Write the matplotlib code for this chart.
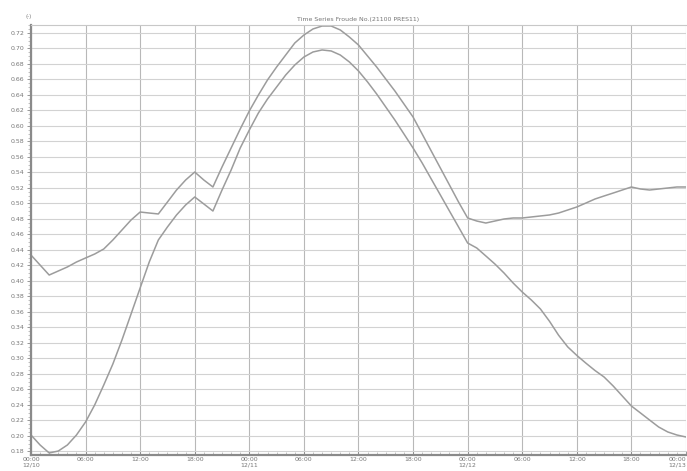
import numpy as np
import matplotlib
matplotlib.use("Agg")
import matplotlib.pyplot as plt
from matplotlib.ticker import MultipleLocator

# === Dados (hora a hora, 3 dias) ===
hours = list(range(0, 73))

serie_sup = [0.4335, 0.4206, 0.4077, 0.4129, 0.4181, 0.4245, 0.4297, 0.4348, 0.4413, 0.4529,
             0.4658, 0.4787, 0.4890, 0.4877, 0.4865, 0.5019, 0.5174, 0.5303, 0.5406, 0.5303,
             0.5213, 0.5471, 0.5716, 0.5961, 0.6194, 0.6400, 0.6594, 0.6761, 0.6916, 0.7071,
             0.7174, 0.7252, 0.7290, 0.7290, 0.7239, 0.7148, 0.7045, 0.6903, 0.6761, 0.6606,
             0.6452, 0.6284, 0.6116, 0.5897, 0.5677, 0.5458, 0.5239, 0.5019, 0.4813, 0.4774,
             0.4748, 0.4774, 0.4800, 0.4813, 0.4813, 0.4826, 0.4839, 0.4852, 0.4877, 0.4916,
             0.4955, 0.5006, 0.5058, 0.5097, 0.5135, 0.5174, 0.5213, 0.5187, 0.5174, 0.5187,
             0.5200, 0.5213, 0.5213]

serie_inf = [0.2013, 0.1884, 0.1781, 0.1806, 0.1884, 0.2013, 0.2181, 0.2400, 0.2658, 0.2929,
             0.3239, 0.3574, 0.3910, 0.4245, 0.4529, 0.4697, 0.4852, 0.4981, 0.5084, 0.4994,
             0.4903, 0.5174, 0.5432, 0.5716, 0.5948, 0.6168, 0.6348, 0.6503, 0.6658, 0.6787,
             0.6890, 0.6955, 0.6981, 0.6968, 0.6916, 0.6826, 0.6710, 0.6568, 0.6413, 0.6245,
             0.6077, 0.5897, 0.5716, 0.5523, 0.5316, 0.5110, 0.4903, 0.4697, 0.4490, 0.4426,
             0.4323, 0.4219, 0.4103, 0.3974, 0.3858, 0.3755, 0.3639, 0.3480, 0.3300, 0.3150,
             0.3040, 0.2940, 0.2845, 0.2761, 0.2645, 0.2516, 0.2387, 0.2297, 0.2206, 0.2116,
             0.2052, 0.2013, 0.1987]

xtick_pos = list(range(0, 73, 6))
xtick_labels = ["00:00\n12/10", "06:00", "12:00", "18:00",
                "00:00\n12/11", "06:00", "12:00", "18:00",
                "00:00\n12/12", "06:00", "12:00", "18:00",
                "00:00\n12/13"]

titulo = "Time Series Froude No.(21100 PRES11)"

# === Figura ===
fig = plt.figure(figsize=(6.87, 4.71), dpi=100)
ax = fig.add_axes([0.0451, 0.034, 0.9534, 0.9129])

ax.plot(hours, serie_sup, color="#9c9c9c", lw=1.1)
ax.plot(hours, serie_inf, color="#9c9c9c", lw=1.1)

ax.set_xlim(0, 72)
ax.set_ylim(0.1755, 0.7303)

ax.set_xticks(xtick_pos)
ax.set_xticklabels(xtick_labels)
# ultimo rotulo encostado na borda
ax.get_xticklabels()[-1].set_horizontalalignment("right")
ax.xaxis.set_minor_locator(MultipleLocator(1))
ax.yaxis.set_major_locator(MultipleLocator(0.02))
ax.yaxis.set_minor_locator(MultipleLocator(0.005))
ax.yaxis.set_major_formatter(matplotlib.ticker.FormatStrFormatter("%.2f"))

ax.tick_params(axis="both", which="major", labelsize=4.5, labelcolor="#777777",
               color="#888888", length=3, width=0.6, pad=1.5)
ax.tick_params(axis="both", which="minor", color="#aaaaaa", length=2, width=0.5)
ax.tick_params(axis="x", which="both", direction="in")

# grade
ax.grid(True, axis="y", which="major", color="#d2d2d2", lw=0.8)
ax.grid(True, axis="x", which="major", color="#b8b8b8", lw=0.8)
ax.set_axisbelow(True)

for lado in ["left", "bottom"]:
    ax.spines[lado].set_color("#8a8a8a")
    ax.spines[lado].set_linewidth(1.6)
ax.spines["top"].set_color("#c8c8c8")
ax.spines["top"].set_linewidth(0.8)
ax.spines["right"].set_visible(False)

ax.set_title(titulo, fontsize=4.5, color="#777777", pad=3)
fig.text(0.041, 0.962, "(-)", fontsize=4, color="#777777", ha="center")

fig.savefig("out.png", dpi=100, facecolor="white")
